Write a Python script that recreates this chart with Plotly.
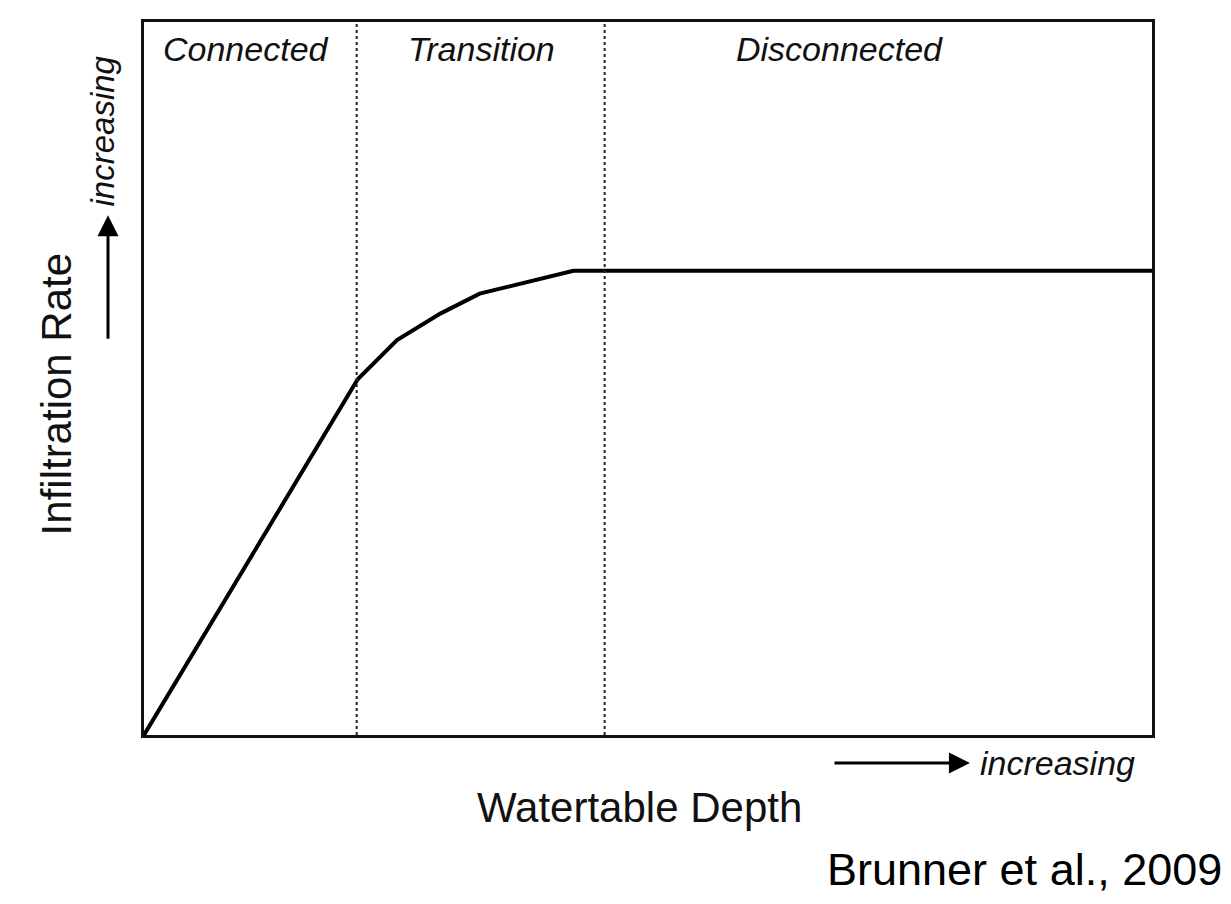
import plotly.graph_objects as go

# Conceptual curve (axes in relative units 0-100)
depth = [0, 21.2, 25.1, 29.4, 33.3, 38.0, 42.6, 100]
infiltration = [0, 49.9, 55.4, 59.1, 61.9, 63.5, 65.1, 65.1]

zone_names = ["Connected", "Transition", "Disconnected"]
zone_centers = [10.1, 33.5, 69.0]
zone_bounds = [21.1, 45.7]

x_label = "Watertable Depth"
y_label = "Infiltration Rate"
direction_text = "increasing"
source_text = "Brunner et al., 2009"

FONT = "Liberation Sans, Arial, sans-serif"

fig = go.Figure()
fig.add_trace(go.Scatter(x=depth, y=infiltration, mode="lines",
                         line=dict(color="black", width=4), showlegend=False,
                         hoverinfo="skip"))

for b in zone_bounds:
    fig.add_shape(type="line", xref="x", yref="paper", x0=b, x1=b, y0=0, y1=1,
                  line=dict(color="#222", width=2, dash="dot"))

for name, c in zip(zone_names, zone_centers):
    fig.add_annotation(x=c, xref="x", y=0.962, yref="paper", text=f"<i>{name}</i>",
                       showarrow=False, font=dict(family=FONT, size=34, color="#111"),
                       xanchor="center", yanchor="middle", borderpad=0)

# y-axis label and direction arrow
fig.add_annotation(x=-0.0873, y=0.4777, xref="paper", yref="paper", text=y_label,
                   textangle=-90, showarrow=False, font=dict(family=FONT, size=42, color="#111"),
                   xanchor="center", yanchor="middle", borderpad=0)
fig.add_annotation(x=-0.0407, y=0.8478, xref="paper", yref="paper", text=f"<i>{direction_text}</i>",
                   textangle=-90, showarrow=False, font=dict(family=FONT, size=33, color="#111"),
                   xanchor="center", yanchor="middle", borderpad=0)
fig.add_annotation(x=-0.0357, y=0.729, xref="paper", yref="paper", text="",
                   showarrow=True, ax=0, ay=125, arrowhead=2, arrowsize=1.4,
                   arrowwidth=3, arrowcolor="black", standoff=0)

# x-axis label and direction arrow
fig.add_annotation(x=0.492, y=-0.102, xref="paper", yref="paper", text=x_label,
                   showarrow=False, font=dict(family=FONT, size=42, color="#111"),
                   xanchor="center", yanchor="middle", borderpad=0)
fig.add_annotation(x=0.9058, y=-0.0391, xref="paper", yref="paper", text=f"<i>{direction_text}</i>",
                   showarrow=False, font=dict(family=FONT, size=34, color="#111"),
                   xanchor="center", yanchor="middle", borderpad=0)
fig.add_annotation(x=0.8194, y=-0.0391, xref="paper", yref="paper", text="",
                   showarrow=True, ax=-137, ay=0, arrowhead=2, arrowsize=1.4,
                   arrowwidth=3, arrowcolor="black", standoff=0)

# source
fig.add_annotation(x=0.6766, y=-0.1885, xref="paper", yref="paper", text=source_text,
                   showarrow=False, font=dict(family=FONT, size=45, color="black"),
                   xanchor="left", yanchor="middle", borderpad=0)

fig.update_xaxes(range=[0, 100], showgrid=False, zeroline=False, showticklabels=False,
                 ticks="", showline=True, linecolor="#111", linewidth=3, mirror=True)
fig.update_yaxes(range=[0, 100], showgrid=False, zeroline=False, showticklabels=False,
                 ticks="", showline=True, linecolor="#111", linewidth=3, mirror=True)

# page body adds an 8px margin, so the figure is sized to fit the window
fig.update_layout(width=1223, height=896, margin=dict(l=136, r=79, t=11, b=169),
                  paper_bgcolor="white", plot_bgcolor="white",
                  font=dict(family=FONT, color="#111"))

fig.write_html("out.html")
